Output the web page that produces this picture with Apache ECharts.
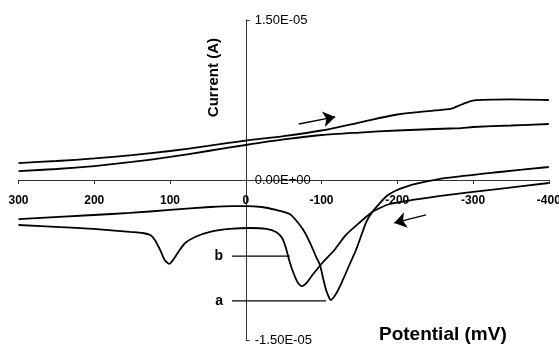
<!DOCTYPE html>
<html>
<head>
<meta charset="utf-8">
<script src="https://cdn.jsdelivr.net/npm/echarts@6/dist/echarts.min.js"></script>
<style>
  html, body { margin: 0; padding: 0; background: #fff; }
  #chart { width: 559px; height: 344px; }
</style>
</head>
<body>
<div id="chart"></div>
<script>
// Cyclic voltammograms a and b. Potentials in mV, currents in µA (axis shows A).

// Forward scans (300 -> -400 mV), sampled at the same potentials
const potentialForward = [300, 250, 200, 150, 100, 50, 0, -50, -100, -150, -200, -250, -270, -285, -300, -350, -400];
const currentForwardA = [1.59, 1.78, 2.02, 2.34, 2.72, 3.19, 3.70, 4.12, 4.64, 5.39, 6.14, 6.52, 6.66, 7.08, 7.45, 7.55, 7.50];
const currentForwardB = [0.84, 1.03, 1.31, 1.69, 2.16, 2.72, 3.28, 3.80, 4.22, 4.45, 4.64, 4.78, 4.83, 4.87, 4.97, 5.11, 5.25];

// Return scan of curve a (-400 -> 300 mV)
const potentialReturnA = [-400, -335, -265, -230, -210, -197, -186, -177, -167, -159, -146, -135, -127, -119, -112, -109, -106, -102, -98, -93, -85, -76, -66, -58, -40, -21, 0, 17, 47, 100, 153, 201, 300];
const currentReturnA = [1.22, 0.75, 0.19, -0.28, -0.66, -1.03, -1.50, -2.16, -3.00, -3.94, -6.47, -8.25, -9.56, -10.69, -11.25, -10.87, -10.31, -9.19, -7.97, -7.22, -5.91, -4.69, -3.75, -3.19, -2.81, -2.53, -2.44, -2.44, -2.53, -2.81, -3.09, -3.28, -3.66];

// Return scan of curve b (-400 -> 300 mV)
const potentialReturnB = [-400, -335, -265, -220, -190, -177, -167, -151, -132, -117, -101, -88, -80, -74, -69, -64, -58, -53, -48, -40, -27, -6, 21, 47, 67, 80, 89, 96, 101, 107, 113, 120, 126, 136, 153, 201, 245, 300];
const currentReturnB = [-0.28, -0.84, -1.41, -1.87, -2.25, -2.62, -3.00, -3.94, -5.16, -6.56, -7.78, -8.91, -9.66, -9.94, -9.66, -8.91, -7.69, -6.37, -5.44, -4.87, -4.59, -4.50, -4.59, -4.87, -5.34, -5.91, -6.75, -7.50, -7.87, -7.50, -6.56, -5.62, -5.16, -4.97, -4.87, -4.59, -4.41, -4.22];

// Leader lines for the curve labels: [startPotential, endPotential, current]
const curveLabels = ['a', 'b'];
const leaderA = [18, -106, -11.34];
const leaderB = [18, -58, -7.13];

// Scan-direction arrows: [fromPotential, fromCurrent, toPotential, toCurrent]
const arrowForward = [-70, 5.25, -118, 5.91];
const arrowReturn = [-238, -3.28, -196, -4.03];

// Axis ticks
const potentialTicks = { min: -400, max: 300, step: 100 };
const currentTicks = { min: -15, max: 15, step: 15 };

function pairs(xs, ys) { return xs.map((x, i) => [x, ys[i]]); }

function sciLabel(microAmps) {
  if (Math.abs(microAmps) < 1e-9) return '0.00E+00';
  const s = (microAmps * 1e-6).toExponential(2); // e.g. "1.50e-5"
  const [mant, exp] = s.split('e');
  const e = parseInt(exp, 10);
  const sign = e < 0 ? '-' : '+';
  const mag = String(Math.abs(e)).padStart(2, '0');
  return mant + 'E' + sign + mag;
}

const FONT = 'Liberation Sans, Arial, Helvetica, sans-serif';
const curveStyle = { color: '#000', width: 1.8 };

// Plot area in pixels
const W = 559, H = 344;
const gridBox = { left: 18.5, right: 10.2, top: 20, bottom: 4 };
const plotW = W - gridBox.left - gridBox.right;
const plotH = H - gridBox.top - gridBox.bottom;
// Axes cross at (0 mV, 0 A): shift each axis line from its grid edge to the origin
const xAxisShift = -plotH * (0 - currentTicks.min) / (currentTicks.max - currentTicks.min);
const yAxisShift = -plotW * (potentialTicks.max - 0) / (potentialTicks.max - potentialTicks.min);

function curve(name, data) {
  return {
    name, type: 'line', data, showSymbol: false, symbol: 'none',
    smooth: 0.25,
    lineStyle: curveStyle, silent: true, z: 3
  };
}

function leader(values, text) {
  return {
    name: 'label-' + text, type: 'line', showSymbol: false, symbol: 'none',
    data: [[values[0], values[2]], [values[1], values[2]]],
    lineStyle: { color: '#000', width: 1.2 }, silent: true, z: 2,
    label: { show: false },
    markPoint: {
      symbol: 'circle', symbolSize: 0, silent: true,
      data: [{ coord: [values[0], values[2]] }],
      label: {
        show: true, formatter: text, position: 'left', distance: 9,
        color: '#000', fontFamily: FONT, fontWeight: 'bold', fontSize: 14
      }
    }
  };
}

const chart = echarts.init(document.getElementById('chart'), null, { renderer: 'canvas' });

chart.setOption({
  animation: false,
  backgroundColor: '#fff',
  grid: Object.assign({ containLabel: false, outerBoundsMode: 'none' }, gridBox),
  xAxis: {
    type: 'value', inverse: true, position: 'bottom', offset: xAxisShift,
    min: potentialTicks.min, max: potentialTicks.max, interval: potentialTicks.step,
    axisLine: { onZero: false, lineStyle: { color: '#333', width: 1 } },
    axisTick: { show: true, inside: false, length: 4, lineStyle: { color: '#333' } },
    axisLabel: {
      margin: 15, color: '#000', fontFamily: FONT, fontWeight: 'bold', fontSize: 12,
      showMinLabel: true, showMaxLabel: true, hideOverlap: false
    },
    splitLine: { show: false }
  },
  yAxis: {
    type: 'value', position: 'left', offset: yAxisShift,
    min: currentTicks.min, max: currentTicks.max, interval: currentTicks.step,
    axisLine: { onZero: false, lineStyle: { color: '#333', width: 1 } },
    axisTick: { show: true, inside: true, length: 4, lineStyle: { color: '#333' } },
    axisLabel: {
      inside: true, margin: 9, color: '#000', fontFamily: FONT, fontSize: 13,
      formatter: sciLabel, showMinLabel: true, showMaxLabel: true, hideOverlap: false
    },
    splitLine: { show: false }
  },
  series: [
    curve('a forward', pairs(potentialForward, currentForwardA)),
    curve('b forward', pairs(potentialForward, currentForwardB)),
    curve('a return', pairs(potentialReturnA, currentReturnA)),
    curve('b return', pairs(potentialReturnB, currentReturnB)),
    leader(leaderA, curveLabels[0]),
    leader(leaderB, curveLabels[1]),
    {
      name: 'scan direction', type: 'line', data: [], silent: true,
      markLine: {
        silent: true, symbol: ['none', 'arrow'], symbolSize: 12,
        lineStyle: { color: '#000', width: 1.3, type: 'solid' },
        label: { show: false },
        emphasis: { disabled: true },
        data: [
          [{ coord: [arrowForward[0], arrowForward[1]] }, { coord: [arrowForward[2], arrowForward[3]] }],
          [{ coord: [arrowReturn[0], arrowReturn[1]] }, { coord: [arrowReturn[2], arrowReturn[3]] }]
        ]
      }
    }
  ],
  graphic: [
    {
      type: 'text', left: 206, top: 38, rotation: Math.PI / 2,
      style: { text: 'Current (A)', fill: '#000', font: 'bold 15px ' + FONT }
    },
    {
      type: 'text', left: 379, top: 325,
      style: { text: 'Potential (mV)', fill: '#000', font: 'bold 19px ' + FONT }
    }
  ]
});
</script>
</body>
</html>
